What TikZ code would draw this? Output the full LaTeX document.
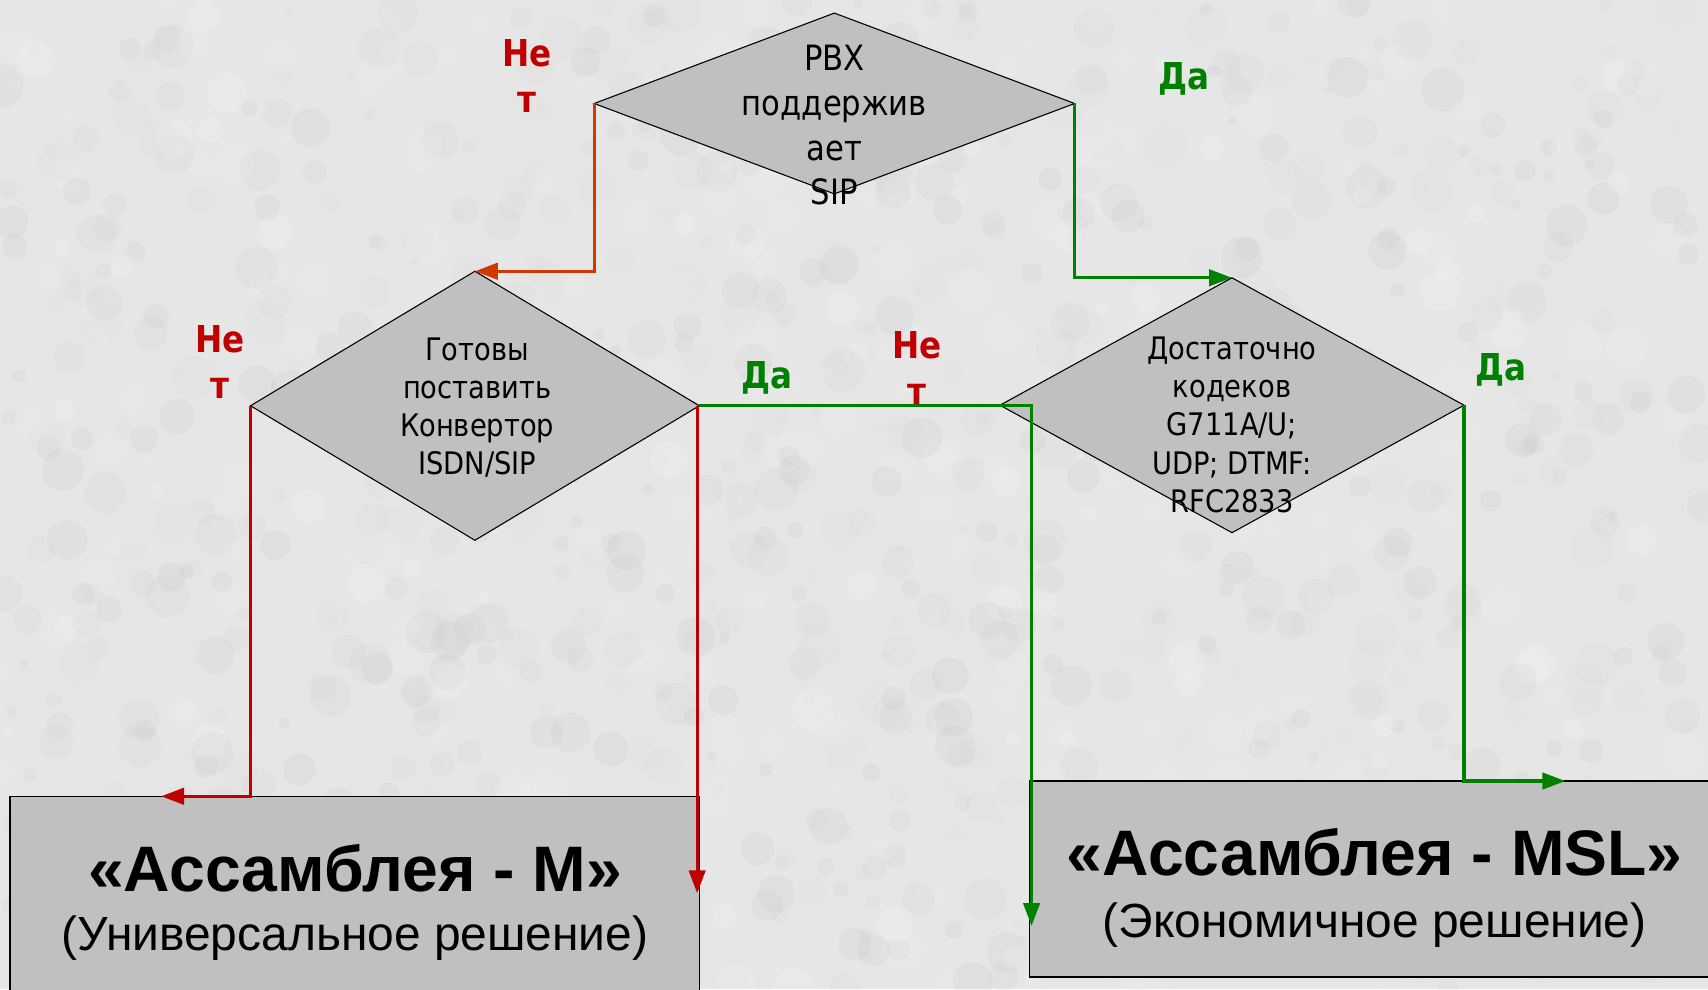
\documentclass[tikz,border=0pt]{standalone}
\usepackage{fontspec}
\newfontfamily\tah[FakeStretch=0.88]{DejaVu Sans}
\newfontfamily\ari{Liberation Sans}
\usetikzlibrary{shapes.geometric,arrows.meta}
\definecolor{bgc}{HTML}{E6E6E6}
\definecolor{boxc}{HTML}{C0C0C0}
\definecolor{redc}{RGB}{192,0,0}
\definecolor{orc}{RGB}{208,56,0}
\definecolor{grc}{RGB}{0,128,0}
\tikzset{
  dia/.style={shape=diamond, draw=black, line width=1pt, fill=boxc, inner sep=0pt, outer sep=0pt},
  dtext/.style={align=center, text=black, inner sep=0pt},
  boxr/.style={draw=black, line width=1.3pt, fill=boxc},
  conn/.style={line width=3pt, -{Triangle[length=21pt,width=15pt]}},
  nolab/.style={text=redc, align=center, inner sep=0pt, font=\tah\bfseries\fontsize{34}{42}\selectfont},
  yeslab/.style={text=grc, align=center, inner sep=0pt, font=\tah\bfseries\fontsize{34}{42}\selectfont},
  titl/.style={anchor=base, inner sep=0pt, font=\ari\bfseries\fontsize{59}{59}\selectfont},
  subt/.style={anchor=base, inner sep=0pt, font=\ari\fontsize{44}{44}\selectfont}
}
\begin{document}
\begin{tikzpicture}[x=1pt,y=-1pt]
\useasboundingbox (0,0) rectangle (1568,908);
\clip (0,0) rectangle (1568,908);
\fill[bgc] (0,0) rectangle (1568,908);
\pgfmathsetseed{7}
\foreach \i in {1,...,1400}{
  \pgfmathsetmacro{\px}{rnd*1568}
  \pgfmathsetmacro{\py}{rnd*908}
  \pgfmathsetmacro{\pr}{4+rnd*16}
  \pgfmathsetmacro{\pc}{rnd*28}
  \fill[black!\pc, opacity=0.14] (\px,\py) circle[radius=\pr pt];
}
% boxes
\draw[boxr] (9,731) rectangle (642,930);
\draw[boxr] (945,717) rectangle (1590,897);
\node[titl] (b1t) at (326,818) {«Ассамблея - М»};
\node[subt] (b1s) at (326,873) {(Универсальное решение)};
\node[titl] (b2t) at (1262,804) {«Ассамблея - MSL»};
\node[subt] (b2s) at (1262,861) {(Экономичное решение)};
% diamonds
\node[dia, minimum width=441pt, minimum height=166pt] (d1) at (766,95) {};
\node[dia, minimum width=412pt, minimum height=247pt] (d2) at (436,372.5) {};
\node[dia, minimum width=426pt, minimum height=234pt] (d3) at (1131,372) {};
\node[dtext, font=\tah\fontsize{32}{41}\selectfont] (d1t) at (766,115) {PBX\\поддержив\\ает\\SIP};
\node[dtext, font=\tah\fontsize{28.5}{35}\selectfont] (d2t) at (438,374) {Готовы\\поставить\\Конвертор\\ISDN/SIP};
\node[dtext, font=\tah\fontsize{28.5}{35}\selectfont] (d3t) at (1131,390) {Достаточно\\кодеков\\G711A/U;\\UDP; DTMF:\\RFC2833};
% coordinates for free ends
\coordinate (m1) at (148,731);
\coordinate (m2) at (640,820);
\coordinate (m3) at (947,850);
\coordinate (m4) at (1437,717);
% connectors
\draw[conn, orc] (d1.west) |- (d2.north);
\draw[conn, grc] (d1.east) |- (d3.north);
\draw[conn, redc] (d2.west) |- (m1);
\draw[conn, redc] (d2.east -| m2) -- (m2);
\draw[conn, grc] (d2.east) -| (m3);
\draw[conn, grc] (d3.east) |- (m4);
% labels
\node[nolab] (n1) at (484,70) {Не\\т};
\node[nolab] (n2) at (202,332) {Не\\т};
\node[nolab] (n3) at (842,338) {Не\\т};
\node[yeslab] (y1) at (1087,72) {Да};
\node[yeslab] (y2) at (704,347) {Да};
\node[yeslab] (y3) at (1378,340) {Да};
\end{tikzpicture}
\end{document}
